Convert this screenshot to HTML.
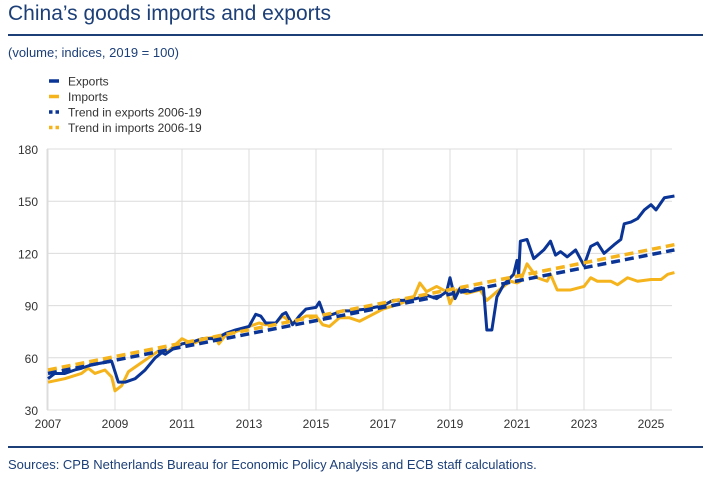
<!DOCTYPE html>
<html><head><meta charset="utf-8"><style>
body{margin:0;background:#fff;width:711px;height:477px;overflow:hidden;font-family:"Liberation Sans",sans-serif;position:relative}
.t{position:absolute;left:8px;top:2px;font-size:21px;color:#1c3f78}
.r{position:absolute;left:8px;right:8px;height:2px;background:#1c3f78}
.s{position:absolute;left:8px;top:45px;font-size:13px;color:#1c3f78}
.src{position:absolute;left:8px;top:457px;font-size:13px;color:#1c3f78}
</style></head><body>
<div class="t">China’s goods imports and exports</div>
<div class="r" style="top:34px"></div>
<div class="s">(volume; indices, 2019 = 100)</div>
<svg id="c" width="711" height="477" style="position:absolute;left:0;top:0"></svg>
<div class="r" style="top:446px"></div>
<div class="src">Sources: CPB Netherlands Bureau for Economic Policy Analysis and ECB staff calculations.</div>
<script>
const yTicks=[30,60,90,120,150,180];
const xTicks=[2007,2009,2011,2013,2015,2017,2019,2021,2023,2025];
const expT=[2007,2007.2,2007.5,2007.8,2008,2008.3,2008.6,2008.9,2009,2009.1,2009.3,2009.6,2009.9,2010.2,2010.4,2010.5,2010.8,2011,2011.3,2011.6,2012,2012.3,2012.6,2013,2013.2,2013.35,2013.5,2013.8,2014,2014.1,2014.3,2014.5,2014.7,2015,2015.1,2015.25,2015.5,2015.8,2016,2016.5,2017,2017.3,2017.6,2018,2018.3,2018.6,2018.9,2019,2019.15,2019.3,2019.6,2020,2020.1,2020.25,2020.4,2020.6,2020.9,2021,2021.05,2021.1,2021.3,2021.5,2021.8,2022,2022.15,2022.3,2022.5,2022.75,2023,2023.2,2023.4,2023.6,2023.9,2024.1,2024.2,2024.4,2024.6,2024.8,2025,2025.15,2025.4,2025.7];
const expV=[48,51,51,53,54,56,57,58,52,46,46,48,53,60,63,62,66,68,69,71,71,74,76,78,85,84,80,80,85,86,79,84,88,89,92,84,85,87,87,88,90,93,93,94,96,94,98,106,94,100,98,100,76,76,95,102,108,116,108,127,128,117,122,127,119,121,118,122,113,124,126,120,125,128,137,138,140,145,148,145,152,153];
const impT=[2007,2007.5,2008,2008.2,2008.4,2008.7,2008.9,2009,2009.2,2009.4,2009.7,2010,2010.3,2010.6,2011,2011.3,2011.7,2012,2012.1,2012.3,2012.6,2013,2013.3,2013.5,2013.8,2014,2014.3,2014.7,2015,2015.2,2015.4,2015.7,2016,2016.3,2016.6,2017,2017.5,2017.9,2018.1,2018.3,2018.6,2018.9,2019,2019.2,2019.5,2019.9,2020.1,2020.4,2020.8,2021,2021.1,2021.3,2021.6,2021.9,2022,2022.2,2022.6,2023,2023.2,2023.4,2023.8,2024,2024.3,2024.6,2025,2025.3,2025.5,2025.7];
const impV=[46,48,51,54,51,53,49,41,44,52,56,60,64,64,71,68,71,72,68,73,75,78,80,79,80,84,80,84,84,79,78,83,83,81,84,88,91,94,103,98,101,98,91,99,97,99,93,98,104,103,104,114,106,104,108,99,99,101,106,104,104,102,106,104,105,105,108,109];
const trendT=[2007,2025.7];
const trendExp=[51,122];
const trendImp=[53,125];
const X=t=>48+(t-2007)*33.5, Y=v=>410-(v-30)*(261/150);
const svg=document.getElementById('c'),NS='http://www.w3.org/2000/svg';
function mk(tag,attrs,name){const e=document.createElementNS(NS,tag);for(const k in attrs)e.setAttribute(k,attrs[k]);


svg.appendChild(e);return e;}
yTicks.forEach(v=>{mk('line',{x1:47,x2:672,y1:Y(v),y2:Y(v),stroke:'#dcdcdc','stroke-width':1},'y-gridline');
const t=mk('text',{x:38,y:Y(v)+5,'text-anchor':'end','font-size':12,fill:'#333'},'y-tick-label');t.textContent=v;});
xTicks.forEach(v=>{mk('line',{x1:X(v),x2:X(v),y1:149,y2:410,stroke:'#dcdcdc','stroke-width':1},'x-gridline');
const t=mk('text',{x:X(v),y:428,'text-anchor':'middle','font-size':12,fill:'#333'},'x-tick-label');t.textContent=v;});
mk('line',{x1:47,x2:47,y1:149,y2:410,stroke:'#dcdcdc'},'y-axis');
const pts=(T,V)=>T.map((t,i)=>X(t)+','+Y(V[i])).join(' ');
mk('polyline',{points:pts(impT,impV),fill:'none',stroke:'#f5b31c','stroke-width':3,'stroke-linejoin':'round'},'imports-line');
mk('polyline',{points:pts(expT,expV),fill:'none',stroke:'#0a3596','stroke-width':3,'stroke-linejoin':'round'},'exports-line');
mk('polyline',{points:pts(trendT,trendImp),fill:'none',stroke:'#f5b31c','stroke-width':3.5,'stroke-dasharray':'9 5'},'imports-trend-line');
mk('polyline',{points:pts(trendT,trendExp),fill:'none',stroke:'#0a3596','stroke-width':3.5,'stroke-dasharray':'9 5'},'exports-trend-line');
const leg=[['Exports','#0a3596',0],['Imports','#f5b31c',0],['Trend in exports 2006-19','#0a3596',1],['Trend in imports 2006-19','#f5b31c',1]];
leg.forEach((l,i)=>{const y=81+i*15.5;
mk('line',{x1:49,x2:59,y1:y,y2:y,stroke:l[1],'stroke-width':3.5,'stroke-dasharray':l[2]?'3.5 3':'none'},'legend-marker');
const t=mk('text',{x:68,y:y+4.5,'font-size':12,fill:'#333'},'legend-entry');t.textContent=l[0];});
</script>
</body></html>
